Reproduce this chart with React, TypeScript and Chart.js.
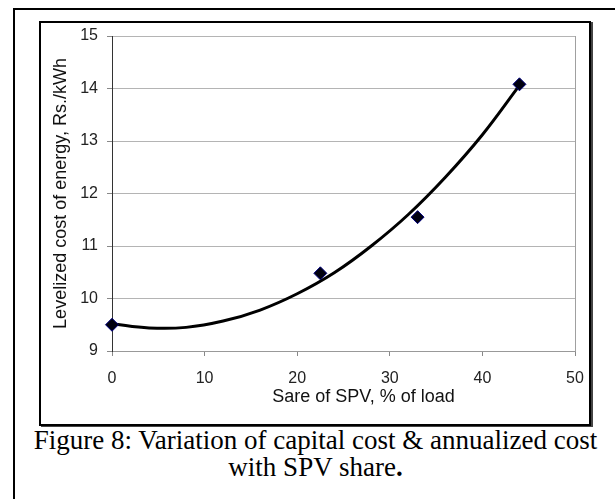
import React, { useEffect, useRef } from "react";
import { Chart, registerables } from "chart.js";

Chart.register(...registerables);

// Observed data points (share of SPV %, levelized cost Rs./kWh)
const spvShare = [0, 22.5, 33, 44];
const levelizedCost = [9.5, 10.48, 11.55, 14.08];

// Polynomial trend line
const trendShare = [0, 4, 8, 12, 16, 20, 24, 28, 32, 36, 40, 44];
const trendCost = [9.52, 9.44, 9.45, 9.57, 9.78, 10.09, 10.49, 11.0, 11.6, 12.31, 13.12, 14.06];

const xTickValues = [0, 10, 20, 30, 40, 50];
const yTickValues = [9, 10, 11, 12, 13, 14, 15];

const xTitle = "Sare of SPV, % of load";
const yTitle = "Levelized cost of energy, Rs./kWh";
const captionLine1 = "Figure 8: Variation of capital cost & annualized cost";
const captionLine2 = "with SPV share";

const SANS = '"Liberation Sans", Arial, sans-serif';

const xTitlePlugin = {
  id: "xTitlePlugin",
  afterDraw(chart: any) {
    const { ctx, chartArea } = chart;
    ctx.save();
    ctx.font = `18px ${SANS}`;
    ctx.fillStyle = "#111";
    ctx.textAlign = "center";
    ctx.textBaseline = "middle";
    ctx.fillText(xTitle, (chartArea.left + chartArea.right) / 2 + 20, chartArea.bottom + 46);
    ctx.restore();
  },
};

export default function App() {
  const ref = useRef<HTMLCanvasElement>(null);

  useEffect(() => {
    if (!ref.current) return;
    const chart = new Chart(ref.current, {
      type: "scatter",
      data: {
        datasets: [
          {
            label: "Levelized cost",
            data: spvShare.map((x, i) => ({ x, y: levelizedCost[i] })),
            pointStyle: "rectRot",
            pointRadius: 6.5,
            pointBackgroundColor: "#000010",
            pointBorderColor: "#000080",
            pointBorderWidth: 1,
            showLine: false,
            clip: false,
          },
          {
            label: "Trend",
            data: trendShare.map((x, i) => ({ x, y: trendCost[i] })),
            showLine: true,
            borderColor: "#000",
            borderWidth: 3,
            pointRadius: 0,
            tension: 0.4,
            clip: false,
          },
        ],
      } as any,
      options: {
        responsive: false,
        animation: false,
        devicePixelRatio: 1,
        layout: { padding: { left: 46, right: 40, top: 36, bottom: 88 } },
        plugins: {
          legend: { display: false },
          tooltip: { enabled: false },
          title: { display: false },
        },
        scales: {
          x: {
            type: "linear",
            min: 0,
            max: 50,
            afterFit: (s: any) => {
              s.height = 60;
            },
            afterBuildTicks: (s: any) => {
              s.ticks = xTickValues.map((v) => ({ value: v }));
            },
            ticks: {
              color: "#222",
              font: { family: SANS, size: 16 },
              padding: 13,
              maxRotation: 0,
            },
            grid: {
              color: (ctx: any) => (ctx.tick && ctx.tick.value === 50 ? "#a0a0a0" : "rgba(0,0,0,0)"),
              tickColor: "#888",
              tickLength: 5,
              lineWidth: 1,
            },
            border: { display: true, color: "#999", width: 1 },
            title: { display: false },
          },
          y: {
            type: "linear",
            min: 9,
            max: 15,
            afterFit: (s: any) => {
              s.width = 66;
            },
            afterBuildTicks: (s: any) => {
              s.ticks = yTickValues.map((v) => ({ value: v }));
            },
            ticks: {
              color: "#222",
              font: { family: SANS, size: 16 },
              padding: 9,
            },
            grid: {
              color: "#b4b4b4",
              tickColor: "#888",
              tickLength: 5,
              lineWidth: 1,
            },
            border: { display: true, color: "#333", width: 1 },
            title: {
              display: true,
              text: yTitle,
              color: "#111",
              font: { family: SANS, size: 18 },
              padding: { top: 4, bottom: 4 },
            },
          },
        },
      } as any,
      plugins: [xTitlePlugin],
    });
    return () => chart.destroy();
  }, []);

  return (
    <div
      style={{
        position: "absolute",
        left: 0,
        top: 0,
        width: 615,
        height: 499,
        overflow: "hidden",
        background: "#fff",
      }}
    >
      <div
        style={{
          position: "absolute",
          left: 13,
          top: 8,
          width: 700,
          height: 600,
          border: "2px solid #000",
          boxSizing: "border-box",
        }}
      />
      <div
        style={{
          position: "absolute",
          left: 39,
          top: 21,
          width: 552,
          height: 405,
          border: "2px solid #000",
          boxSizing: "border-box",
          boxShadow: "2px 1px 0 #444",
        }}
      />
      <div
        style={{
          position: "absolute",
          left: 0,
          top: 427,
          width: 631,
          textAlign: "center",
          fontFamily: '"Liberation Serif", "Times New Roman", serif',
          fontSize: 27,
          lineHeight: "27px",
          color: "#000",
          whiteSpace: "nowrap",
        }}
      >
        <div>{captionLine1}</div>
        <div>
          {captionLine2}
          <b>.</b>
        </div>
      </div>
      <canvas
        ref={ref}
        width={615}
        height={499}
        style={{ position: "absolute", left: 0, top: 0, width: 615, height: 499 }}
      />
    </div>
  );
}
